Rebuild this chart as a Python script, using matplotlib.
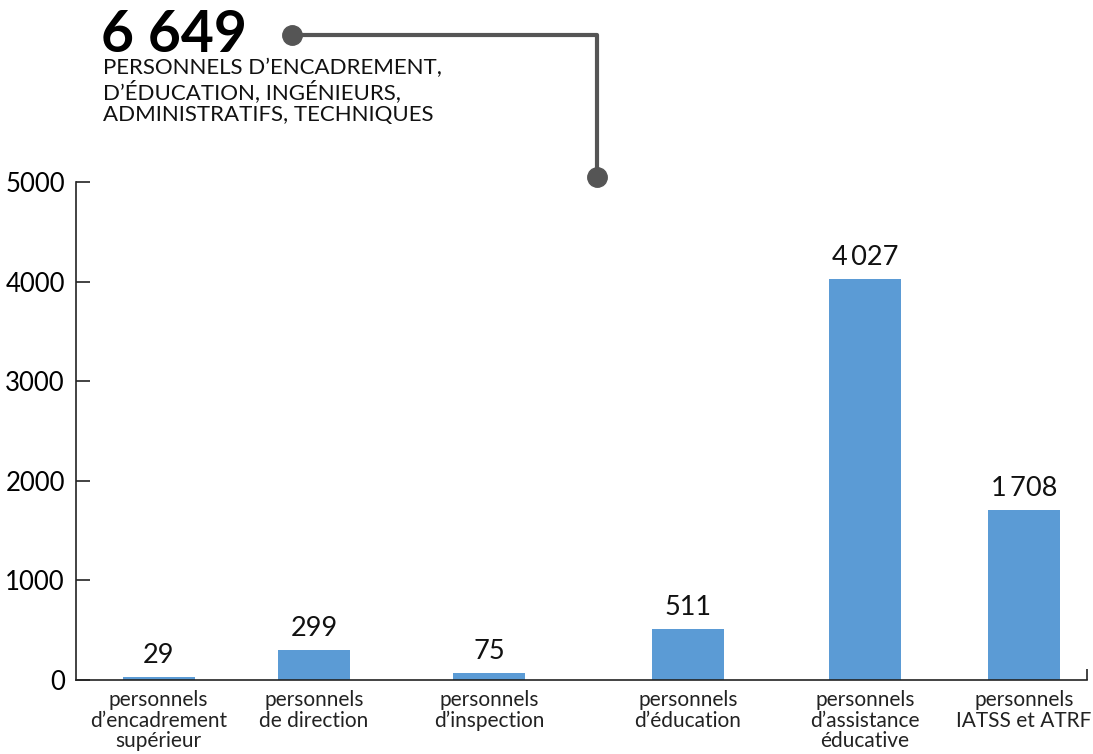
import matplotlib.pyplot as plt
from matplotlib.lines import Line2D

# data
categories = ["personnels\nd’encadrement\nsupérieur", "personnels\nde direction",
              "personnels\nd’inspection", "personnels\nd’éducation",
              "personnels\nd’assistance\néducative", "personnels\nIATSS et ATRF"]
values = [29, 299, 75, 511, 4027, 1708]
total = "6 649"
subtitle = "PERSONNELS D’ENCADREMENT,\nD’ÉDUCATION, INGÉNIEURS,\nADMINISTRATIFS, TECHNIQUES"
yticks = [0, 1000, 2000, 3000, 4000, 5000]

# layout (bars are not evenly spaced in the original)
xpos = [0.516, 1.488, 2.581, 3.825, 4.931, 5.925]
xmax = 6.32
bar_w = 0.45
blue = "#5b9bd5"
grey = "#555555"
fam = ["Lato", "DejaVu Sans"]

plt.rcParams['font.family'] = fam

fig = plt.figure(figsize=(10.93, 7.54), dpi=100)
ax = fig.add_axes([76/1093, 1-680/754, (1087-76)/1093, (680-182)/754])

ax.bar(xpos, values, width=bar_w, color=blue, zorder=2)
for x, v in zip(xpos, values):
    lab = f"{v:,}".replace(",", "\u2009")
    ax.text(x, v + 90, lab, ha="center", va="bottom", fontsize=19.5, color="#111111")

ax.set_xlim(0, xmax)
ax.set_ylim(0, 5000)
ax.set_yticks(yticks)
ax.set_yticklabels([str(t) for t in yticks], fontsize=18.5)
ax.set_xticks(xpos)
ax.set_xticklabels(categories, fontsize=15, linespacing=1.05, color="#222222")
ax.set_xticks([xmax], minor=True)

for s in ["top", "right"]:
    ax.spines[s].set_visible(False)
for s in ["left", "bottom"]:
    ax.spines[s].set_linewidth(1.2)
    ax.spines[s].set_color("#222222")

ax.tick_params(axis="y", direction="in", length=10, width=1.2, pad=8, color="#222222")
ax.tick_params(axis="x", which="major", length=0, pad=7)
ax.tick_params(axis="x", which="minor", direction="in", length=8, width=1.2, color="#222222")

# header
fig.text(101/1093, 1-52/754, total, fontsize=41, fontweight="bold", ha="left", va="baseline")
fig.text(103/1093, 1-58/754, subtitle, fontsize=16, ha="left", va="top", linespacing=1.12,
         color="#111111")

# connector
lx = [292/1093, 597/1093, 597/1093]
ly = [1-35/754, 1-35/754, 1-177/754]
fig.add_artist(Line2D(lx, ly, color=grey, lw=3, transform=fig.transFigure))
fig.add_artist(Line2D([lx[0], lx[2]], [ly[0], ly[2]], ls="none", marker="o", ms=14,
                      color=grey, transform=fig.transFigure))

fig.savefig("out.png", dpi=100)
